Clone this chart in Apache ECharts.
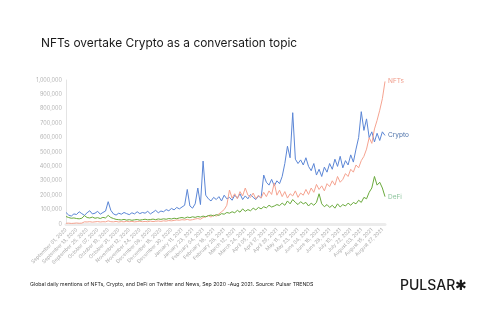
<!DOCTYPE html>
<html>
<head>
<meta charset="utf-8">
<script src="https://cdn.jsdelivr.net/npm/echarts@6/dist/echarts.min.js"></script>
<style>
html,body{margin:0;padding:0;background:#fff;}
#chart{width:500px;height:330px;}
</style>
</head>
<body>
<div id="chart"></div>
<script>
// Series values every 3 days from 2020-09-01 to 2021-08-30
var nftsValues = [5000,6000,4000,5000,7000,5000,6000,
15000,14000,16000,13000,15000,17000,14000,16000,15000,22000,16000,15000,18000,14000,17000,15000,19000,16000,18000,15000,17000,19000,16000,
18000,16000,20000,17000,19000,21000,18000,22000,20000,24000,22000,25000,28000,26000,30000,28000,
32000,27000,30000,35000,38000,33000,45000,50000,58000,48000,62000,55000,70000,
85000,100000,130000,
236000,180000,210000,175000,225000,195000,250000,200000,185000,215000,175000,200000,180000,
220000,190000,230000,205000,285000,200000,235000,
190000,225000,180000,210000,195000,230000,185000,215000,200000,240000,205000,250000,220000,
275000,240000,265000,230000,280000,260000,300000,270000,330000,290000,
310000,350000,330000,380000,360000,410000,390000,440000,470000,
520000,600000,560000,660000,720000,790000,870000,990000];

var cryptoValues = [80000,62000,55000,70000,66000,85000,72000,60000,78000,92000,70000,75000,88000,68000,80000,90000,
155000,
95000,70000,62000,75000,68000,80000,72000,65000,78000,70000,85000,72000,80000,
75000,88000,70000,82000,95000,78000,90000,85000,100000,92000,108000,98000,115000,105000,118000,
130000,240000,125000,110000,140000,250000,135000,437000,200000,175000,
160000,185000,170000,190000,160000,200000,175000,
185000,165000,200000,180000,210000,170000,195000,175000,205000,185000,170000,195000,180000,
340000,290000,270000,310000,265000,300000,280000,
330000,420000,540000,460000,773000,450000,420000,445000,410000,
460000,400000,370000,420000,340000,380000,330000,395000,360000,
420000,380000,450000,400000,470000,390000,440000,410000,480000,430000,
520000,600000,780000,650000,730000,600000,640000,570000,630000,580000,640000,615000];

var defiValues = [52000,45000,40000,42000,38000,36000,40000,58000,45000,42000,48000,40000,44000,38000,46000,42000,
60000,45000,
38000,32000,30000,28000,32000,27000,30000,26000,29000,31000,27000,30000,33000,29000,31000,34000,30000,35000,32000,36000,33000,38000,35000,
40000,37000,42000,45000,40000,48000,44000,50000,46000,52000,48000,55000,50000,58000,62000,56000,65000,60000,72000,68000,80000,
75000,85000,78000,95000,82000,105000,88000,100000,92000,110000,98000,115000,105000,120000,112000,130000,118000,125000,135000,
128000,145000,130000,160000,140000,170000,150000,135000,155000,140000,150000,125000,145000,130000,150000,
210000,140000,
120000,135000,115000,130000,110000,140000,118000,135000,125000,145000,130000,150000,140000,
165000,150000,185000,175000,220000,250000,
330000,270000,290000,250000,190000];

var seriesNames = ['NFTs', 'Crypto', 'DeFi'];
var yTicks = {min: 0, max: 1000000, interval: 100000};

// Category dates (every 3 days)
var monthNames = ['January','February','March','April','May','June','July','August','September','October','November','December'];
var dates = [];
var start = Date.UTC(2020, 8, 1);
for (var i = 0; i < nftsValues.length; i++) {
  var d = new Date(start + i * 3 * 86400000);
  var dd = d.getUTCDate();
  dates.push(monthNames[d.getUTCMonth()] + ' ' + (dd < 10 ? '0' + dd : dd) + ', ' + d.getUTCFullYear());
}

var chart = echarts.init(document.getElementById('chart'));
var font = 'Inter, "Noto Sans", sans-serif';
function mk(name, data, color, labelColor) {
  return {
    name: name, type: 'line', data: data, symbol: 'none', smooth: false,
    lineStyle: {color: color, width: 1},
    itemStyle: {color: color},
    endLabel: {show: true, formatter: '{a}', color: labelColor, fontSize: 6.5, fontFamily: font, distance: 3},
    z: 2
  };
}
chart.setOption({
  animation: false,
  backgroundColor: '#fff',
  title: {
    text: 'NFTs overtake Crypto as a conversation topic',
    left: 36, top: 32,
    textStyle: {fontSize: 11.9, fontWeight: 'normal', color: '#1a1a1a', fontFamily: font}
  },
  grid: {left: 66, right: 115, top: 80, bottom: 106},
  xAxis: {
    type: 'category', data: dates, boundaryGap: false, offset: 2,
    axisLine: {lineStyle: {color: '#ececec', width: 3}},
    axisTick: {show: false},
    axisLabel: {interval: 3, rotate: 45, fontSize: 5, color: '#aaaaaa', fontFamily: font, margin: 3},
    splitLine: {show: false}
  },
  yAxis: {
    type: 'value', min: yTicks.min, max: yTicks.max, interval: yTicks.interval,
    axisLine: {show: true, lineStyle: {color: '#e4e4e4', width: 1}},
    axisTick: {show: false},
    splitLine: {show: false},
    axisLabel: {fontSize: 5.5, color: '#b5b5b5', fontFamily: font, margin: 4,
      formatter: function (v) { return v.toLocaleString('en-US'); }}
  },
  series: [
    mk(seriesNames[1], cryptoValues, '#5b86d6', '#4a6fa8'),
    mk(seriesNames[0], nftsValues, '#f5a390', '#f09a88'),
    mk(seriesNames[2], defiValues, '#6aaa3c', '#8cc49c')
  ],
  graphic: [
    {type: 'text', left: 30, top: 282, style: {
      text: 'Global daily mentions of NFTs, Crypto, and DeFi on Twitter and News, Sep 2020 -Aug 2021. Source: Pulsar TRENDS',
      fontSize: 5.2, fill: '#222', fontFamily: font}},
    {type: 'text', left: 400, top: 279, style: {
      text: 'PULSAR\u2731', fontSize: 14, fill: '#1a1a1a', fontFamily: font, fontWeight: 500}}
  ]
});
</script>
</body>
</html>
